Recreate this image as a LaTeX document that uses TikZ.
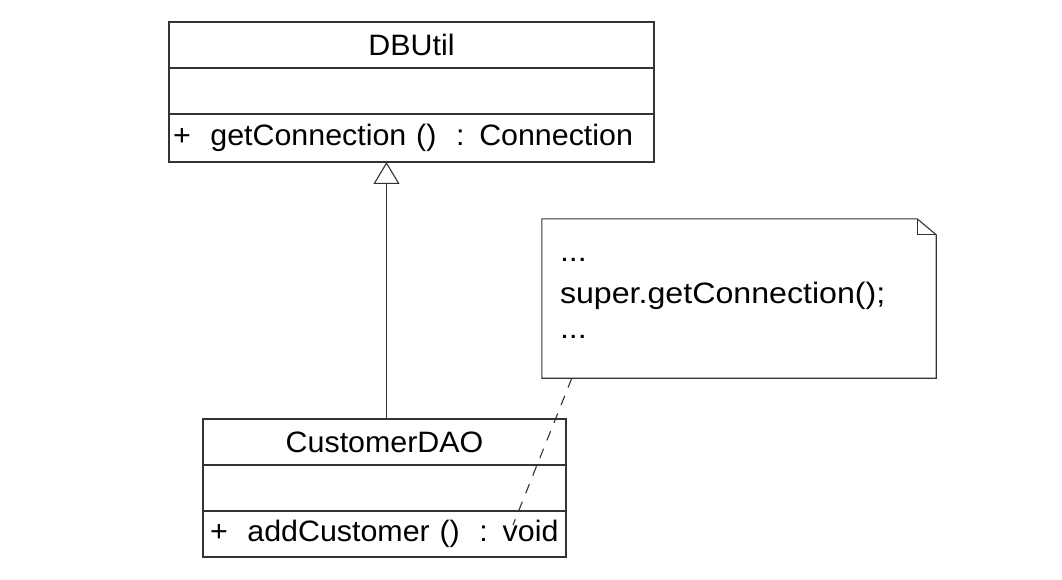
\documentclass[tikz,border=0pt]{standalone}
\usepackage{fontspec}
\setmainfont{Liberation Sans}[FakeStretch=1.03]
\newfontfamily\notefont{Liberation Sans}[FakeStretch=1.09]
\usetikzlibrary{positioning,calc,arrows.meta}
\tikzset{
    line/.style={draw=black!80, line width=1.1pt},
    every node/.append style={font=\fontsize{29.5}{39}\selectfont, text=black},
    row/.style={line, minimum height=46pt, outer sep=0pt, inner sep=0pt},
    dbrow/.style={row, minimum width=485pt},
    daorow/.style={row, minimum width=363pt},
    method/.style={align=left, inner xsep=4pt, text width=#1},
    inherit/.style={line, -{Triangle[open, length=22pt, width=26pt]}},
    attach/.style={line, dash pattern=on 10pt off 9pt},
}

\begin{document}
\begin{tikzpicture}[x=1pt, y=-1pt]
    \useasboundingbox (0,0) rectangle (1062,580);

    % superclass
    \node[dbrow] (dbname) at (411.5,45) {DBUtil};
    \node[dbrow, below=0pt of dbname] (dbattr) {};
    \node[dbrow, minimum height=48pt, below=0pt of dbattr, method=477pt] (dbmethod) {+\ \ getConnection ()\ \ : Connection};

    % subclass
    \node[daorow] (daoname) at (384.5,442) {CustomerDAO};
    \node[daorow, below=0pt of daoname] (daoattr) {};
    \node[daorow, below=0pt of daoattr, inner xsep=7pt, method=349pt] (daomethod) {+\ \ addCustomer ()\ \ : void};

    % note
    \node[minimum width=394pt, minimum height=159pt, inner xsep=18pt, inner ysep=0pt, text width=358pt, align=left,
        font=\fontsize{29.5}{39}\notefont] (note) at (739,298.5) {...\\[3pt]super.getConnection();\\[-4pt]...};
    \draw[line] ($(note.north east)+(-19,0)$) -- (note.north west) -- (note.south west)
        -- (note.south east) -- ($(note.north east)+(0,16)$) -- cycle;
    \draw[line] ($(note.north east)+(-19,0)$) |- ($(note.north east)+(0,16)$);

    \coordinate (up) at ($(daoname.north)+(2,0)$);
    \coordinate (notefoot) at ($(note.south west)+(30,0)$);
    \coordinate (daopin) at (513,525);

    \draw[inherit] (up) -- (up |- dbmethod.south);
    \draw[attach] (notefoot) -- (daopin);
\end{tikzpicture}
\end{document}
